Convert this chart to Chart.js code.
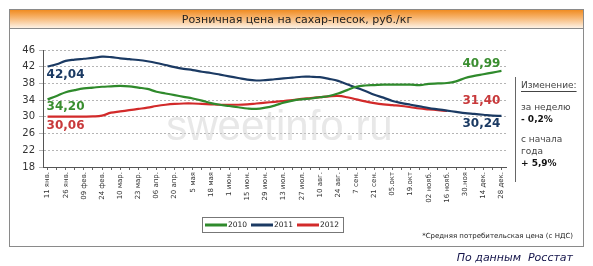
<!DOCTYPE html>
<html>
<head>
<meta charset="utf-8">
<script src="https://cdn.jsdelivr.net/npm/chart.js@4"></script>
<style>
  html, body { margin: 0; padding: 0; background: #fff; }
  canvas { display: block; }
</style>
</head>
<body>
<canvas id="chart1" width="593" height="266"></canvas>
<script>
// подписи оси X (каждая вторая неделя)
const tickLabels = ["11 янв.", "26 янв.", "09 фев.", "24 фев.", "10 мар.", "23 мар.", "06 апр.", "20 апр.",
  "5 мая", "18 мая", "1 июн.", "15 июн.", "29 июн.", "13 июл.", "27 июл.", "10 авг.", "24 авг.",
  "7 сен.", "21 сен.", "05.окт", "19.окт", "02 нояб.", "16 нояб.", "30.ноя", "14 дек.", "28 дек."];

const years = ["2010", "2011", "2012"];

const price2010 = [34.20, 35.0, 35.9, 36.4, 36.8, 37.0, 37.2, 37.3, 37.4, 37.3, 37.0, 36.7, 36.0, 35.6,
  35.2, 34.8, 34.4, 33.9, 33.3, 32.9, 32.6, 32.3, 32.0, 31.9, 32.2, 32.7, 33.4, 33.9, 34.2, 34.4,
  34.7, 35.0, 35.6, 36.4, 37.2, 37.5, 37.6, 37.7, 37.7, 37.7, 37.7, 37.6, 37.9, 38.0, 38.1, 38.5,
  39.3, 39.8, 40.2, 40.6, 40.99];

const price2011 = [42.04, 42.6, 43.4, 43.7, 43.9, 44.1, 44.4, 44.3, 44.0, 43.8, 43.6, 43.3, 42.9, 42.4,
  41.9, 41.5, 41.2, 40.8, 40.5, 40.1, 39.7, 39.3, 38.9, 38.7, 38.8, 39.0, 39.2, 39.4, 39.6, 39.6,
  39.5, 39.1, 38.6, 37.8, 37.0, 36.2, 35.3, 34.6, 33.8, 33.3, 32.9, 32.5, 32.1, 31.8, 31.5, 31.2,
  30.9, 30.7, 30.5, 30.3, 30.24];

const price2012 = [30.06, 30.06, 30.06, 30.06, 30.06, 30.1, 30.3, 31.0, 31.3, 31.6, 31.9, 32.2, 32.6,
  32.9, 33.1, 33.2, 33.2, 33.1, 33.0, 32.9, 32.9, 32.9, 33.0, 33.2, 33.4, 33.6, 33.8, 34.0, 34.3,
  34.5, 34.7, 34.9, 35.0, 34.7, 34.2, 33.7, 33.3, 33.0, 32.8, 32.6, 32.3, 32.0, 31.8, 31.6, 31.4];

const colors = ["#2f8a2c", "#1b3a63", "#d22a2a"];
const textColors = ["#3a8e30", "#1b3a63", "#c8393b"];

// 51 неделя, подписи через одну
const weeks = [];
tickLabels.forEach((l, i) => {
  weeks.push(l);
  if (i < tickLabels.length - 1) weeks.push("");
});

const fmt = (v) => v.toFixed(2).replace(".", ",");

const decor = {
  id: "decor",
  beforeDraw(chart) {
    const ctx = chart.ctx;
    ctx.save();
    // рамка
    ctx.fillStyle = "#fff";
    ctx.fillRect(0, 0, chart.width, chart.height);
    ctx.strokeStyle = "#8a8a8a";
    ctx.lineWidth = 1;
    ctx.strokeRect(9.5, 9.5, 574, 237);
    // шапка
    const g = ctx.createLinearGradient(0, 10, 0, 28);
    g.addColorStop(0, "#f08c22");
    g.addColorStop(0.4, "#f7b26a");
    g.addColorStop(1, "#fdf2e6");
    ctx.fillStyle = g;
    ctx.fillRect(10, 10, 573, 18);
    ctx.beginPath();
    ctx.moveTo(10, 28.5);
    ctx.lineTo(583, 28.5);
    ctx.stroke();
    ctx.fillStyle = "#222";
    ctx.font = '11px "DejaVu Sans"';
    ctx.textAlign = "center";
    ctx.textBaseline = "middle";
    ctx.fillText("Розничная цена на сахар-песок, руб./кг", 297, 20);

    // правая панель
    ctx.strokeStyle = "#666";
    ctx.beginPath();
    ctx.moveTo(515.5, 77);
    ctx.lineTo(515.5, 182);
    ctx.stroke();
    ctx.textAlign = "left";
    ctx.fillStyle = "#444";
    ctx.font = '9px "DejaVu Sans"';
    ctx.fillText("Изменение:", 521, 86);
    const w = ctx.measureText("Изменение:").width;
    ctx.strokeStyle = "#444";
    ctx.beginPath();
    ctx.moveTo(521, 91.5);
    ctx.lineTo(521 + w, 91.5);
    ctx.stroke();
    ctx.fillText("за неделю", 521, 108);
    ctx.fillText("с начала", 521, 140);
    ctx.fillText("года", 521, 152);
    ctx.fillStyle = "#111";
    ctx.font = 'bold 9px "DejaVu Sans"';
    ctx.fillText("- 0,2%", 521, 120);
    ctx.fillText("+ 5,9%", 521, 164);

    // сноски
    ctx.textAlign = "right";
    ctx.fillStyle = "#222";
    ctx.font = '7px "DejaVu Sans"';
    ctx.fillText("*Средняя потребительская цена (с НДС)", 573, 236);
    ctx.fillStyle = "#14144a";
    ctx.font = 'italic 11px "DejaVu Sans"';
    ctx.fillText("По данным  Росстат", 573, 258);
    ctx.restore();
  },
  beforeDatasetsDraw(chart) {
    const ctx = chart.ctx;
    const a = chart.chartArea;
    ctx.save();
    ctx.fillStyle = "rgba(210,210,210,0.5)";
    ctx.font = '42px "Liberation Sans"';
    ctx.textAlign = "center";
    ctx.textBaseline = "alphabetic";
    ctx.fillText("sweetinfo.ru", (a.left + a.right) / 2 + 5, 140);
    ctx.restore();
  },
  afterDatasetsDraw(chart) {
    const ctx = chart.ctx;
    ctx.save();
    ctx.font = 'bold 12px "DejaVu Sans"';
    ctx.textBaseline = "alphabetic";
    const series = [price2010, price2011, price2012];
    // начальные значения
    const startDy = [10.5, 11, 12];
    series.forEach((s, i) => {
      const p = chart.getDatasetMeta(i).data[0];
      ctx.fillStyle = textColors[i];
      ctx.textAlign = "left";
      ctx.fillText(fmt(s[0]), p.x - 1, p.y + startDy[i]);
    });
    // конечные значения
    const endDy = [-4, 11.5, -7];
    const xEnd = chart.getDatasetMeta(0).data[price2010.length - 1].x;
    series.forEach((s, i) => {
      const pts = chart.getDatasetMeta(i).data;
      const p = pts[s.length - 1];
      ctx.fillStyle = textColors[i];
      ctx.textAlign = "right";
      ctx.fillText(fmt(s[s.length - 1]), xEnd - 1, p.y + endDy[i]);
    });

    // легенда
    const lx = 202, ly = 217, lw = 141, lh = 15;
    ctx.fillStyle = "#fff";
    ctx.fillRect(lx, ly, lw, lh);
    ctx.strokeStyle = "#777";
    ctx.lineWidth = 1;
    ctx.strokeRect(lx + 0.5, ly + 0.5, lw, lh);
    ctx.font = '7.5px "DejaVu Sans"';
    ctx.textAlign = "left";
    ctx.textBaseline = "middle";
    chart.data.datasets.forEach((ds, i) => {
      const x0 = lx + 3 + i * 46;
      ctx.strokeStyle = ds.borderColor;
      ctx.lineWidth = 3;
      ctx.beginPath();
      ctx.moveTo(x0, ly + 8);
      ctx.lineTo(x0 + 22, ly + 8);
      ctx.stroke();
      ctx.fillStyle = "#222";
      ctx.fillText(ds.label, x0 + 23, ly + 8);
    });
    ctx.restore();
  }
};

const config = {
  type: "line",
  data: {
    labels: weeks,
    datasets: [price2010, price2011, price2012].map((d, i) => ({
      label: years[i],
      data: d,
      borderColor: colors[i],
      backgroundColor: colors[i],
      borderWidth: 2.2,
      pointRadius: 0,
      tension: 0.4,
      fill: false
    }))
  },
  options: {
    responsive: false,
    animation: false,
    devicePixelRatio: 1,
    layout: { padding: { left: 10, right: 87, top: 50, bottom: 59 } },
    plugins: {
      legend: { display: false },
      tooltip: { enabled: false }
    },
    scales: {
      x: {
        offset: true,
        afterFit: (s) => { s.height = 40; },
        grid: { drawOnChartArea: false, tickLength: 3, color: "#666" },
        border: { color: "#555", width: 1 },
        ticks: {
          autoSkip: false,
          minRotation: 90,
          maxRotation: 90,
          padding: 2,
          color: "#333",
          font: { family: "DejaVu Sans", size: 7 }
        }
      },
      y: {
        min: 18,
        max: 46,
        afterFit: (s) => { s.width = 33; },
        grid: { color: "#b5b5b5", tickLength: 4 },
        border: { color: "#555", width: 1, dash: [2, 2] },
        ticks: {
          stepSize: 4,
          padding: 4,
          color: "#333",
          font: { family: "DejaVu Sans", size: 10 }
        }
      }
    }
  },
  plugins: [decor]
};

const myChart = new Chart(document.getElementById("chart1"), config);
</script>
</body>
</html>
